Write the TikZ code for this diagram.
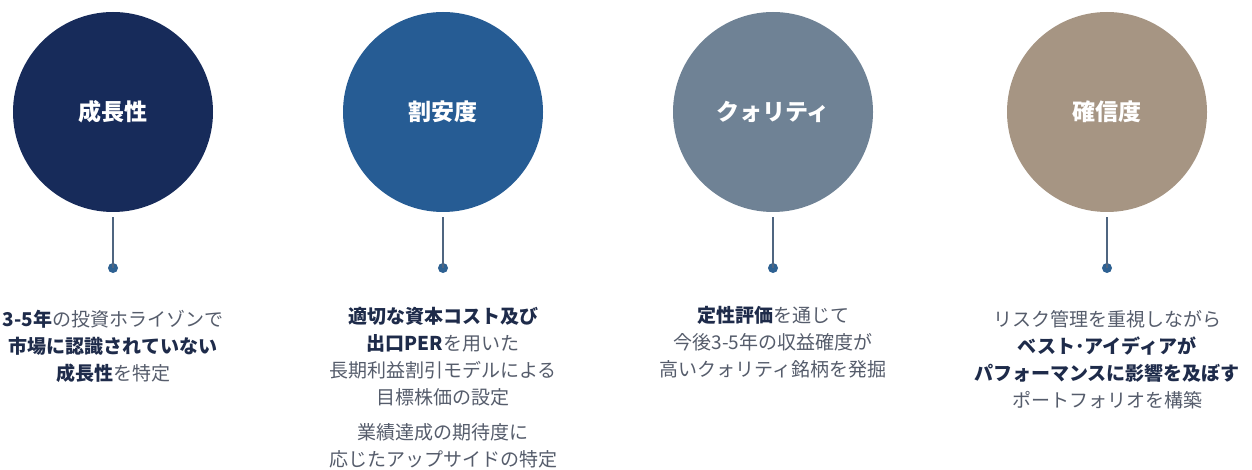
\documentclass[tikz,border=0pt]{standalone}
\usepackage{fontspec}
\newfontfamily\jp{Noto Sans CJK JP}
\definecolor{cA}{HTML}{172B5A}
\definecolor{cB}{HTML}{265C94}
\definecolor{cC}{HTML}{6F8295}
\definecolor{cD}{HTML}{A69583}
\definecolor{txt}{HTML}{555C6B}
\definecolor{btxt}{HTML}{1E2B4A}
\definecolor{stem}{HTML}{4F6580}
\definecolor{dotc}{HTML}{2E6192}
\tikzset{
  pillar/.style={circle, minimum size=200pt, inner sep=0pt, text=white,
    font={\jp\bfseries\fontsize{23}{26}\selectfont}},
  dotnode/.style={circle, fill=dotc, minimum size=10pt, inner sep=0pt},
  stemline/.style={draw=stem, line width=1.6pt},
  desc/.style={anchor=north, align=center, inner sep=0pt, text=txt,
    font={\jp\fontsize{19}{27}\selectfont}},
}
\newcommand{\hb}[1]{{\bfseries\color{btxt}#1}}
\begin{document}
\begin{tikzpicture}[x=1pt,y=-1pt]
\useasboundingbox (0,0) rectangle (1252,470);
\node[pillar, fill=cA] (c1) at (113,112) {成長性};
\node[pillar, fill=cB] (c2) at (443,112) {割安度};
\node[pillar, fill=cC] (c3) at (773,112) {クォリティ};
\node[pillar, fill=cD] (c4) at (1107,112) {確信度};
\foreach \i/\x in {1/113,2/443,3/773,4/1107}{
  \node[dotnode] (d\i) at (\x,268) {};
  \draw[stemline] ([yshift=-5pt]c\i.south) -- (d\i.center);
}
\node[desc] (t1) at (113,310) {\hb{3-5年}の投資ホライゾンで\\ \hb{市場に認識されていない}\\ \hb{成長性}を特定};
\node[desc] (t2) at (443,307) {\hb{適切な資本コスト及び}\\ \hb{出口PER}を用いた\\ 長期利益割引モデルによる\\ 目標株価の設定\\[8pt] 業績達成の期待度に\\ 応じたアップサイドの特定};
\node[desc] (t3) at (773,306) {\hb{定性評価}を通じて\\ 今後3-5年の収益確度が\\ 高いクォリティ銘柄を発掘};
\node[desc] (t4) at (1107,310) {リスク管理を重視しながら\\ \hb{ベスト･アイディアが}\\ \hb{パフォーマンスに影響を及ぼす}\\ ポートフォリオを構築};
\end{tikzpicture}
\end{document}
